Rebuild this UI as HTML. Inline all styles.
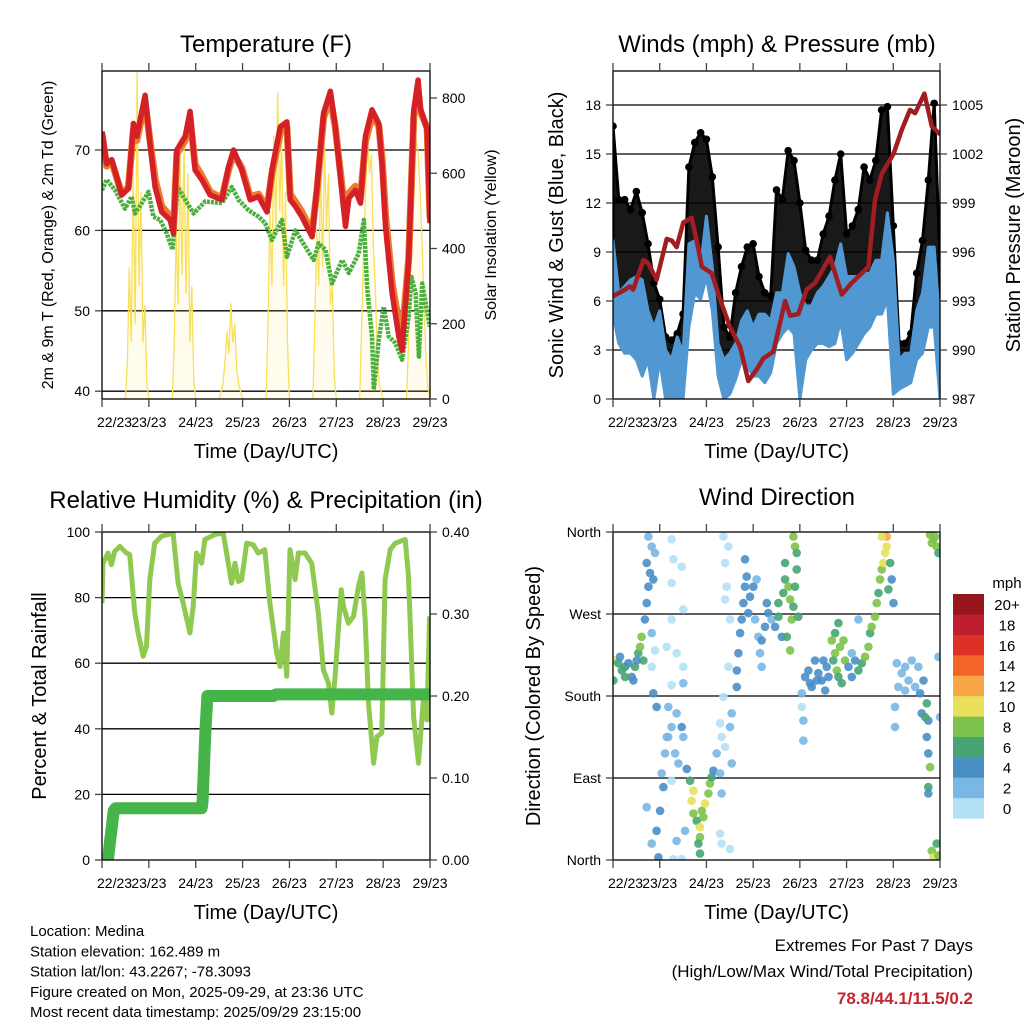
<!DOCTYPE html>
<html><head><meta charset="utf-8"><style>
html,body{margin:0;padding:0;background:#fff;}
svg{display:block;font-family:"Liberation Sans",sans-serif;}
</style></head><body>
<svg id="c" width="1024" height="1024" viewBox="0 0 1024 1024" xmlns="http://www.w3.org/2000/svg"></svg>
<script>
// ---------- Temperature panel data ----------
const tempRedHours=[0,2.4,5,10.1,13.5,16.1,17.8,22.1,24.6,27.2,30.6,34.9,36.6,38.3,42.6,45.1,47.7,51.1,55.4,61.4,64.8,67.4,71.6,75.9,80.2,84.5,87,91.3,94.7,96.4,99,102.4,107.6,110.1,113.5,117,119.5,123,124.7,126.4,129.8,132.4,134.9,138.3,141.8,143.5,145.2,148.6,152,153.7,157.1,159.7,161.9,163.1,166.5,168];
const tempRed=[72.3,68.3,68.8,64.4,65.2,73.3,71.7,76.8,70.8,65.4,62.3,61.3,59.6,70,71.7,74.8,67.5,66.3,64.4,63.8,67.9,70,67.5,63.8,64.2,62.3,67.5,72.9,73.5,63.8,63.0,61.7,59.2,65.4,74.6,77.3,72.9,64.6,60.5,64.0,65.0,63.4,71.7,75.0,73.3,67.9,60.5,52.2,46.8,45.1,56.3,75.0,78.7,75.2,72.5,60.9];
const tempOrange=[72.0,68.0,68.5,64.6,65.4,72.5,71.2,76.0,71.2,66.4,63.0,61.8,60.2,69.5,71.2,74.0,68.2,66.8,64.8,64.0,67.5,69.5,67.8,64.2,64.5,62.8,67.0,72.2,72.8,64.5,63.6,62.3,59.8,65.0,74.0,76.5,72.8,65.4,61.5,64.6,65.5,64.0,71.0,74.2,73.0,68.8,62.0,53.5,48.5,47.0,56.5,74.2,77.5,74.8,72.8,61.5];
const tempGreenHours=[0,2.4,6.7,11.8,15.2,16.9,20.4,23.8,26.3,29.8,33.2,36.1,38.8,42.6,46.9,52.8,61.4,66.5,69.9,75.1,80.2,83.6,87,92.2,94.7,99,104.1,108.4,111,114.4,117.8,123,126.4,131.5,134.1,135.8,138.3,139.2,141.8,144.3,146.9,150.3,153.7,157.1,158.5,160.6,162.3,164,167.9];
const tempGreen=[65.0,66.3,65.0,62.7,64.2,62.1,63.4,64.8,61.7,61.3,59.6,57.6,65.4,63.8,62.1,63.6,63.4,65.4,63.8,62.5,61.7,60.9,58.8,61.3,56.7,60.0,58.0,56.3,58.4,57.6,53.4,56.3,54.7,57.1,61.3,53.0,46.8,40.2,46.4,50.5,46.8,46.0,43.9,49.3,54.2,52.2,44.3,53.4,48.0];
const solarHours=[0,12,13,14,15,16,17,18,19,20,21,22,23,24,36,37,38,39,40,41,42,43,44,45,46,47,48,60,62,63,64,65,66,67,68,69,70,72,84,85,86,87,88,89,90,91,92,93,94,95,96,108,109,110,111,112,113,114,115,116,117,118,119,120,132,133,134,135,136,137,138,139,140,141,142,144,156,157,158,159,160,161,162,163,164,165,166,167,168];
const solarValues=[0,0,100,350,150,600,200,870,300,550,150,250,40,0,0,150,450,250,650,330,670,280,600,150,300,50,0,0,40,100,180,120,255,150,200,80,40,0,0,200,500,300,700,450,814,500,700,300,550,150,0,0,200,450,300,620,350,670,450,600,250,300,60,0,0,200,400,550,690,600,650,400,300,120,40,0,0,150,350,500,620,690,650,550,400,250,100,30,0];
const tempTicks=[40,50,60,70];
const solarTicks=[0,200,400,600,800];
const dayLabels=["22/23","23/23","24/23","25/23","26/23","27/23","28/23","29/23"];

// ---------- Wind panel data ----------
const windHours=[0,3,6,9,12,15,18,21,24,27,30,33,36,39,42,45,48,51,54,57,60,63,66,69,72,75,78,81,84,87,90,93,96,99,102,105,108,111,114,117,120,123,126,129,132,135,138,141,144,147,150,153,156,159,162,165,168];
const windHi=[9.7,6.5,6.9,7.3,7.5,7.3,5.4,4.4,5.4,3,2.4,3.8,2.8,9.5,9.7,8.1,11.2,8.1,3.4,2.4,2.8,3.4,4.8,5.4,4.4,5.2,5.2,4.8,6.5,6.5,8.9,8.1,6.5,5.7,5.7,6.5,6.9,7.5,8.1,9.5,7.5,7.5,7.5,7.7,7.7,8.5,8.5,11.4,8.5,2.4,2.8,2.8,5.4,6.5,9.3,9.3,4.4];
const windLo=[5.2,3.4,2.8,2.8,2.4,1.4,2.4,0,2.4,0,0,0,0,4.4,6.5,6.1,7.5,5.4,1.4,0,0.3,1.2,2.4,2,1.4,1.4,1,1.6,3.4,4,4.4,4,0,2.4,3,3.4,3.4,3.2,3.4,4.8,2.4,2.8,3.4,4,4.4,5.2,5.2,6.1,0.3,0.6,0.8,1,2.4,2.8,4.4,4.4,0];
const gustHi=[16.7,12.2,12.2,11.6,12.7,11.4,9.5,7.1,6.1,3.8,3.6,4,5.2,14.2,15.7,16.3,15.9,13.6,9.3,4.4,3.8,6.5,8.1,9.3,9.5,7.5,6.5,6.3,12.8,12.2,15.2,14.6,12,9.1,8.5,8.5,10.1,11.2,13.4,15,10.1,10.6,11.6,14.2,13.4,14.6,17.7,17.9,10.6,3.4,3.4,4,7.7,9.7,13.4,18.1,8.5];
const pressHours=[0,6.2,8.7,10.4,15.6,18.2,22.4,27.6,30.2,32.7,36.1,40.4,43,45.6,50.7,55,60.1,65.3,69.5,73.8,77.3,82.4,88.4,91,95.2,99.5,103.8,111.5,117.5,122.6,126.1,131.2,134.6,138.1,144.1,148.4,152.6,155.2,160,163.8,168];
const pressValues=[993.3,993.7,993.9,993.7,995.5,995.3,994.3,996.8,996.7,996.3,997.8,998.1,996.7,995.1,994.7,993.1,991.4,990.2,988.1,988.8,989.5,989.9,993.0,992.1,992.2,993.7,994.1,995.7,993.4,994.1,994.5,995.1,999.2,1000.8,1002.0,1003.5,1004.7,1004.5,1005.7,1003.7,1003.2];
const windTicks=[0,3,6,9,12,15,18];
const pressTicks=[987,990,993,996,999,1002,1005];

// ---------- RH panel data ----------
const rhHours=[0,0.5,3.1,4.8,6.5,9.1,12.5,14.2,16.8,18.5,21.1,22.8,24.5,27.0,30.5,36.4,39.0,41.6,45.0,46.7,48.4,51.0,52.7,57.8,62.1,64.7,66.4,68.1,69.8,71.5,74.1,77.5,80.0,83.4,86.0,89.5,91.2,92.9,94.6,96.3,98.9,100.6,104.0,107.4,110.8,113.4,116.0,117.7,119.4,122.5,123.7,126.2,128.8,131.4,133.1,134.8,136.5,139.1,140.8,143.3,145.0,147.6,150.2,155.3,157.0,159.6,162.1,164.7,166.4,167.8];
const rhValues=[78.3,90.5,93.6,90,94.1,95.6,93.6,93.1,75.3,69.2,62.1,65.2,85.5,96.6,98.7,99.7,84.4,78.3,69.2,77.3,93.6,90.5,97.7,99.2,99.7,90.5,84.4,90.5,84.9,85.4,96.6,96.1,93.6,94.6,78.3,63.1,59,69.2,56,94.6,85.5,93.6,93.6,90.5,75.3,58,53.9,44.8,56,82.4,77.3,72.2,74.3,83.4,87.5,73.2,47.8,29.5,37.6,38.7,85.5,94.6,96.6,97.7,86.5,43.7,29.5,49.8,42.7,74.3];
const precipHours=[0,3,4,5,6,7,51,51.5,52,52.5,53,53.5,54,88,89,168];
const precipValues=[0,0,0.02,0.04,0.06,0.063,0.063,0.07,0.10,0.13,0.16,0.18,0.2,0.2,0.202,0.202];
const rhTicks=[0,20,40,60,80,100];
const precipTicks=[0,0.1,0.2,0.3,0.4];

// ---------- Wind direction panel data ----------
const dirHours=[0.2,1,2.7,4.5,6.2,7.9,9.6,11.3,13,13.9,14.7,15.6,10.5,6.2,3.6,12.2,
18.2,19.9,17.3,19,18.2,17.3,21.6,20.7,16.4,19.9,21.6,19.9,20.7,22.4,
25.9,24.2,22.4,19.9,25,26.7,27.6,17.3,23.3,
30.1,31,30.1,35.3,36.1,30.1,27.6,32.7,36.1,30.1,36.1,28.4,32.7,35.3,30.1,31.9,33.6,36.1,28.4,30.1,32.7,37,31,35.3,
37.9,39.6,41.3,40.4,41.3,43,44.7,45.6,47.3,46.4,44.7,43.9,49,49.8,50.7,51.6,53.3,55,55.8,55,55.8,60.1,44.7,
56.7,59.3,57.6,58.4,57.6,60.1,59.3,56.7,61,60.1,55.8,55,61,57.6,
63.6,63.6,64.4,65.3,66.1,67,67.8,68.7,70.4,72.1,69.5,73.8,73,74.7,75.5,76.4,78.1,79,79.8,81.5,83.3,85,86.7,67.8,76.4,
85,87.5,88.4,90.1,91,91.8,92.7,93.5,94.4,93.5,92.7,88.4,91,89.3,95.2,94.4,
97,97.8,97.8,97,
98.7,100.4,102.1,103.8,105.5,107.2,109,109.8,101.2,104.7,108.1,110.7,
112.4,114.1,115,116.7,115.8,118.4,119.2,114.1,117.5,115.8,113.2,
121,122.7,124.4,126.1,127.8,129.5,131.2,132.1,132.9,134.6,135.5,136.4,137.2,138.1,138.9,139.8,140.6,140.6,142.4,143.2,141.5,144.1,126.1,122.7,138.1,
145.8,148.3,150.1,151.8,153.5,155.2,157.8,159.5,161.2,162,161.2,162,162.9,162,162,146.6,150.1,144.9,144.9,156.9,158.6,167.2,168,160.3,
162.9,164.6,166.3,165.5,167.2,163.8,
163.8,166.3,164.6,167.2];
const dirDegrees=[197,219,216,208,212,216,201,212,227,234,245,219,197,201,223,219,
355,344,326,315,300,282,337,308,264,249,230,212,183,168,
80,54,32,18,95,117,135,58,3,
352,330,304,322,275,264,234,227,212,192,194,168,161,146,146,117,106,135,135,87,21,32,1,1,
100,87,76,65,51,43,36,54,62,47,25,18,73,84,91,98,117,95,73,29,18,12,7,
355,344,326,300,286,264,212,179,161,146,135,150,106,124,
190,208,227,249,264,282,300,311,289,300,271,308,264,245,227,212,256,282,271,264,256,267,245,330,241,
282,293,308,300,286,264,278,300,319,344,355,326,230,245,267,337,
168,153,131,183,
201,208,190,219,205,197,186,212,194,197,219,201,
241,227,208,234,260,241,219,249,194,201,219,
212,201,219,208,216,223,234,249,256,267,282,293,308,319,326,337,344,355,326,308,297,282,264,227,355,
216,205,212,197,219,190,183,197,172,153,135,117,102,80,73,190,186,168,146,212,161,223,157,157,
357,352,344,355,337,348,
10,18,3,5];
const dirSpeeds=[6,10,6,6,6,4,4,6,6,8,8,6,4,6,4,4,
2,2,4,4,4,4,2,4,4,2,1,1,4,4,
4,4,4,2,2,2,2,2,4,
1,1,1,1,1,1,1,1,1,1,2,2,2,4,2,2,2,2,2,1,2,2,1,1,
4,6,10,10,8,6,10,8,10,8,8,6,8,8,6,4,2,2,2,1,1,1,6,
1,1,1,1,1,1,1,1,2,2,1,1,2,1,
4,4,4,4,4,4,4,4,4,4,4,2,2,2,2,2,4,4,4,2,4,6,4,4,4,
6,6,6,8,8,8,6,6,6,8,8,6,8,6,6,6,
1,2,2,2,
4,4,4,4,4,4,4,4,4,4,4,4,
8,8,8,8,6,8,8,6,6,6,6,
4,4,4,6,6,8,8,6,8,8,8,6,8,8,10,10,10,12,6,4,6,4,2,2,10,
2,2,2,2,2,2,4,4,6,4,4,4,8,6,4,2,2,2,2,2,4,2,2,6,
8,8,8,8,6,8,
8,6,10,8];
const dirTickLabels=["North","East","South","West","North"];
const speedColors=["#b5e1f6","#7ab7e4","#4a8ec6","#46a572","#7dc24a","#e8e05a","#f9a646","#f26428","#dd3027","#bf1e2e","#96161c"];
const speedLabels=["0","2","4","6","8","10","12","14","16","18","20+"];

const NS="http://www.w3.org/2000/svg";
const svg=document.getElementById('c');
function mk(tag,attrs,parent,text){const el=document.createElementNS(NS,tag);for(const k in attrs)el.setAttribute(k,attrs[k]);if(text!==undefined)el.textContent=text;(parent||svg).appendChild(el);return el;}
function lin(d0,d1,r0,r1){return v=>r0+(v-d0)*(r1-r0)/(d1-d0);}

function panel(id,x0,x1,y0,y1){
  const g=mk('g',{});
  
  
  const cp=mk('clipPath',{id:id+'-clip'},g);
  mk('rect',{x:x0,y:y0,width:x1-x0,height:y1-y0},cp);
  const plot=mk('g',{'clip-path':'url(#'+id+'-clip)'},g);
  
  
  return {g,plot,x0,x1,y0,y1,X:lin(0,168,x0,x1)};
}
function gridH(P,ys){ys.forEach(y=>{const l=mk('line',{x1:P.x0,x2:P.x1,y1:y,y2:y,stroke:'#000','stroke-width':1.3},P.plot);});}
function frame(P){
  const r=mk('rect',{x:P.x0,y:P.y0,width:P.x1-P.x0,height:P.y1-P.y0,fill:'none',stroke:'#000','stroke-width':1.3},P.g);
  
  for(let d=0;d<8;d++){
    const x=P.X(d*24);
    mk('line',{x1:x,x2:x,y1:P.y0,y2:P.y0-8,stroke:'#444','stroke-width':1.3},P.g);
    mk('line',{x1:x,x2:x,y1:P.y1,y2:P.y1+8,stroke:'#444','stroke-width':1.3},P.g);
    const tl=mk('text',{x:d===0?P.x0-5:x,y:P.y1+28,'font-size':14,'text-anchor':d===0?'start':'middle'},P.g,dayLabels[d]);
    
  }
  const xt=mk('text',{x:(P.x0+P.x1)/2,y:P.y1+59,'font-size':20,'text-anchor':'middle'},P.g,'Time (Day/UTC)');
  
}
function yTicks(P,vals,scale,side,fmt){
  vals.forEach(v=>{const y=scale(v);
    if(side==='l'){mk('line',{x1:P.x0,x2:P.x0-7,y1:y,y2:y,stroke:'#444','stroke-width':1.3},P.g);
      const tl=mk('text',{x:P.x0-12,y:y+5,'font-size':14,'text-anchor':'end'},P.g,fmt(v));}
    else{mk('line',{x1:P.x1,x2:P.x1+7,y1:y,y2:y,stroke:'#444','stroke-width':1.3},P.g);
      const tl=mk('text',{x:P.x1+12,y:y+5,'font-size':14,'text-anchor':'start'},P.g,fmt(v));}
  });
}
function addTitle(txt,x,y,name){const tl=mk('text',{x:x,y:y,'font-size':24,'text-anchor':'middle'},svg,txt);}
function vtitle(txt,x,y,size,name){const tl=mk('text',{x:x,y:y,'font-size':size,'text-anchor':'middle',transform:'rotate(-90 '+x+' '+y+')'},svg,txt);}
function pts(P,hs,vs,Y){return hs.map((h,i)=>P.X(h).toFixed(1)+','+Y(vs[i]).toFixed(1)).join(' ');}

// ===== Panel 1: Temperature =====
const P1=panel('temperature',102,430,71,399);
const TY=lin(40,70,391.2,150), SY=lin(0,800,399,98);
gridH(P1,tempTicks.map(TY));
const solarPts=pts(P1,solarHours,solarValues,SY);
let el=mk('polygon',{points:solarPts+' '+P1.X(168)+','+SY(0)+' '+P1.X(0)+','+SY(0),fill:'#fbe76a','fill-opacity':0.12,stroke:'none'},P1.plot);

el=mk('polyline',{points:solarPts,fill:'none',stroke:'#f8e05a','stroke-width':1.3},P1.plot);

el=mk('polyline',{points:pts(P1,tempGreenHours,tempGreen,TY),fill:'none',stroke:'#4cae3f','stroke-width':4.5,'stroke-dasharray':'3 1','stroke-linejoin':'round'},P1.plot);

el=mk('polyline',{points:pts(P1,tempRedHours,tempOrange,TY),fill:'none',stroke:'#f07a2c','stroke-width':7,'stroke-linejoin':'round'},P1.plot);

el=mk('polyline',{points:pts(P1,tempRedHours,tempRed,TY),fill:'none',stroke:'#d42027','stroke-width':5.5,'stroke-linejoin':'round'},P1.plot);

frame(P1);
yTicks(P1,tempTicks,TY,'l',v=>v);
yTicks(P1,solarTicks,SY,'r',v=>v);
addTitle('Temperature (F)',266,52,'temperature-title');
vtitle('2m & 9m T (Red, Orange) & 2m Td (Green)',53,235,16,'temperature-y-axis-title');
vtitle('Solar Insolation (Yellow)',496,235,16,'solar-y-axis-title');

// ===== Panel 2: Winds =====
const P2=panel('winds',613,940,71,399);
const WY=lin(0,18,399,105), PY=lin(987,1005,399,105);
gridH(P2,windTicks.slice(1).map(WY));
const gustTopPts=windHours.map((h,i)=>P2.X(h).toFixed(1)+','+WY(gustHi[i]).toFixed(1));
const gustBotPts=windHours.map((h,i)=>P2.X(h).toFixed(1)+','+WY(windHi[i]).toFixed(1)).reverse();
el=mk('polygon',{points:gustTopPts.concat(gustBotPts).join(' '),fill:'#000','fill-opacity':0.9,stroke:'#000','stroke-width':3,'stroke-linejoin':'round'},P2.plot);

windHours.forEach((h,i)=>{const c=mk('circle',{cx:P2.X(h),cy:WY(gustHi[i]),r:3.8,fill:'#000'},P2.plot);
  });
const windTopPts=windHours.map((h,i)=>P2.X(h).toFixed(1)+','+WY(windHi[i]).toFixed(1));
const windBotPts=windHours.map((h,i)=>P2.X(h).toFixed(1)+','+WY(windLo[i]).toFixed(1)).reverse();
el=mk('polygon',{points:windTopPts.concat(windBotPts).join(' '),fill:'#5197d2',stroke:'#5197d2','stroke-width':3,'stroke-linejoin':'round'},P2.plot);

el=mk('polyline',{points:pts(P2,pressHours,pressValues,PY),fill:'none',stroke:'#a11d22','stroke-width':4.5,'stroke-linejoin':'round'},P2.plot);

frame(P2);
yTicks(P2,windTicks,WY,'l',v=>v);
yTicks(P2,pressTicks,PY,'r',v=>v);
addTitle('Winds (mph) & Pressure (mb)',777,52,'winds-title');
vtitle('Sonic Wind & Gust (Blue, Black)',563,235,20,'wind-y-axis-title');
vtitle('Station Pressure (Maroon)',1020,235,20,'pressure-y-axis-title');

// ===== Panel 3: RH =====
const P3=panel('humidity',102,430,532,860);
const RY=lin(0,100,860,532), QY=lin(0,0.4,860,532);
gridH(P3,rhTicks.slice(1,5).map(RY));
el=mk('polyline',{points:pts(P3,rhHours,rhValues,RY),fill:'none',stroke:'#8fc94f','stroke-width':5,'stroke-linejoin':'round'},P3.plot);

el=mk('polyline',{points:pts(P3,precipHours,precipValues,QY),fill:'none',stroke:'#45b449','stroke-width':12,'stroke-linejoin':'round','stroke-linecap':'round'},P3.plot);

frame(P3);
yTicks(P3,rhTicks,RY,'l',v=>v);
yTicks(P3,precipTicks,QY,'r',v=>v.toFixed(2));
addTitle('Relative Humidity (%) & Precipitation (in)',266,508,'humidity-title');
vtitle('Percent & Total Rainfall',46,696,20,'humidity-y-axis-title');

// ===== Panel 4: Wind direction =====
const P4=panel('wind-direction',613,940,532,860);
const DY=lin(0,360,860,532);
gridH(P4,[90,180,270].map(DY));
dirHours.forEach((h,i)=>{
  const idx=Math.min(10,Math.floor(dirSpeeds[i]/2));
  const c=mk('circle',{cx:P4.X(h).toFixed(1),cy:DY(dirDegrees[i]).toFixed(1),r:4.3,fill:speedColors[idx],'fill-opacity':0.9},P4.plot);
  
  
});
frame(P4);
yTicks(P4,[0,90,180,270,360],DY,'l',v=>dirTickLabels[v/90]);
addTitle('Wind Direction',777,505,'wind-direction-title');
vtitle('Direction (Colored By Speed)',540,696,20,'direction-y-axis-title');

// colorbar
const cb=mk('g',{});


const ct=mk('text',{x:1007,y:588,'font-size':15,'text-anchor':'middle'},cb,'mph');

for(let i=0;i<11;i++){
  const y=594+(10-i)*20.4;
  const r=mk('rect',{x:953,y:y,width:31,height:20.6,fill:speedColors[i]},cb);
  
  const tl=mk('text',{x:1007,y:y+16,'font-size':15,'text-anchor':'middle'},cb,speedLabels[i]);
  
}

// footer text
const info=["Location: Medina","Station elevation: 162.489 m","Station lat/lon: 43.2267; -78.3093","Figure created on Mon, 2025-09-29, at 23:36 UTC","Most recent data timestamp: 2025/09/29 23:15:00"];
info.forEach((s,i)=>{const tl=mk('text',{x:30,y:936+i*20.3,'font-size':15},svg,s);});
let ft=mk('text',{x:973,y:951,'font-size':17,'text-anchor':'end'},svg,'Extremes For Past 7 Days');
ft=mk('text',{x:973,y:977,'font-size':17,'text-anchor':'end'},svg,'(High/Low/Max Wind/Total Precipitation)');
ft=mk('text',{x:973,y:1004,'font-size':17,'text-anchor':'end','font-weight':'bold',fill:'#c3262d'},svg,'78.8/44.1/11.5/0.2');
</script>
</body></html>
